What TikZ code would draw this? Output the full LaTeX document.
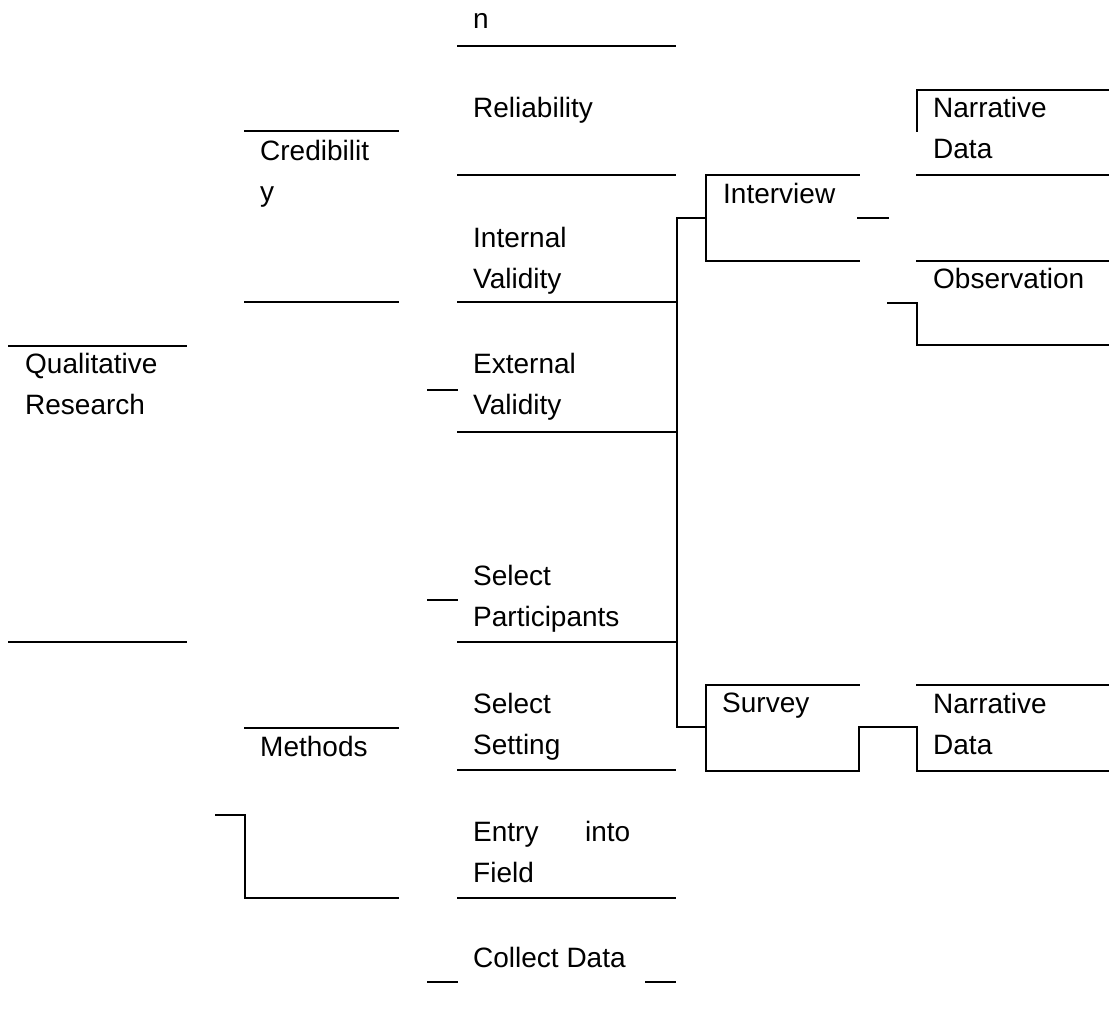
\documentclass[tikz,border=0pt]{standalone}
\usepackage{fontspec}
\setmainfont{Liberation Sans}

\begin{document}
\begin{tikzpicture}[x=1pt,y=-1pt]

\tikzset{CellText/.style={anchor=base west,inner sep=0pt,align=left,font=\fontsize{28}{41}\selectfont}};
\tikzset{Rule/.style={line width=2pt,line cap=rect}};

\useasboundingbox[fill=white] (0,0) rectangle (1110,1023);

\begin{scope}

% left columns (two-line cells sit on the baseline of their last line)
\node[CellText] (qual) at (25,414) {Qualitative\\Research};
\node[CellText] (cred) at (260,201) {Credibilit\\y};
\node[CellText] (meth) at (260,756) {Methods};

\draw[Rule] (9,346) -- (186,346);
\draw[Rule] (9,642) -- (186,642);
\draw[Rule] (245,131) -- (398,131);
\draw[Rule] (245,302) -- (398,302);
\draw[Rule] (245,728) -- (398,728);
\draw[Rule] (216,815) -- (245,815) -- (245,898) -- (398,898);

% middle column
\node[CellText] (nn) at (473,28) {n};
\node[CellText] (rel) at (473,117) {Reliability};
\node[CellText] (intv) at (473,288) {Internal\\Validity};
\node[CellText] (extv) at (473,414) {External\\Validity};
\node[CellText] (selp) at (473,626) {Select\\Participants};
\node[CellText] (sels) at (473,754) {Select\\Setting};
\node[CellText] (entry) at (473,882) {\makebox[157pt][s]{Entry into}\\Field};
\node[CellText] (coll) at (473,967) {Collect Data};

\foreach \yy in {46,175,302,432,642,770,898}
  \draw[Rule] (458,\yy) -- (675,\yy);
\foreach \yy in {390,600,982}
  \draw[Rule] (428,\yy) -- (457,\yy);
\draw[Rule] (646,982) -- (675,982);

% right side
\node[CellText] (intw) at (723,203) {Interview};
\node[CellText] (surv) at (722,712) {Survey};
\node[CellText] (narr) at (933,158) {Narrative\\Data};
\node[CellText] (obs) at (933,288) {Observation};
\node[CellText] (narrb) at (933,754) {Narrative\\Data};

\draw[Rule] (859,175) -- (706,175) -- (706,261) -- (859,261);
\draw[Rule] (706,218) -- (677,218) -- (677,727) -- (706,727);
\draw[Rule] (859,685) -- (706,685) -- (706,771) -- (859,771) -- (859,727) -- (917,727) -- (917,771) -- (1108,771);
\draw[Rule] (917,685) -- (1108,685);
\draw[Rule] (858,218) -- (888,218);
\draw[Rule] (917,131) -- (917,90) -- (1108,90);
\draw[Rule] (917,175) -- (1108,175);
\draw[Rule] (917,261) -- (1108,261);
\draw[Rule] (888,303) -- (917,303) -- (917,345) -- (1108,345);

\end{scope}

\end{tikzpicture}
\end{document}
